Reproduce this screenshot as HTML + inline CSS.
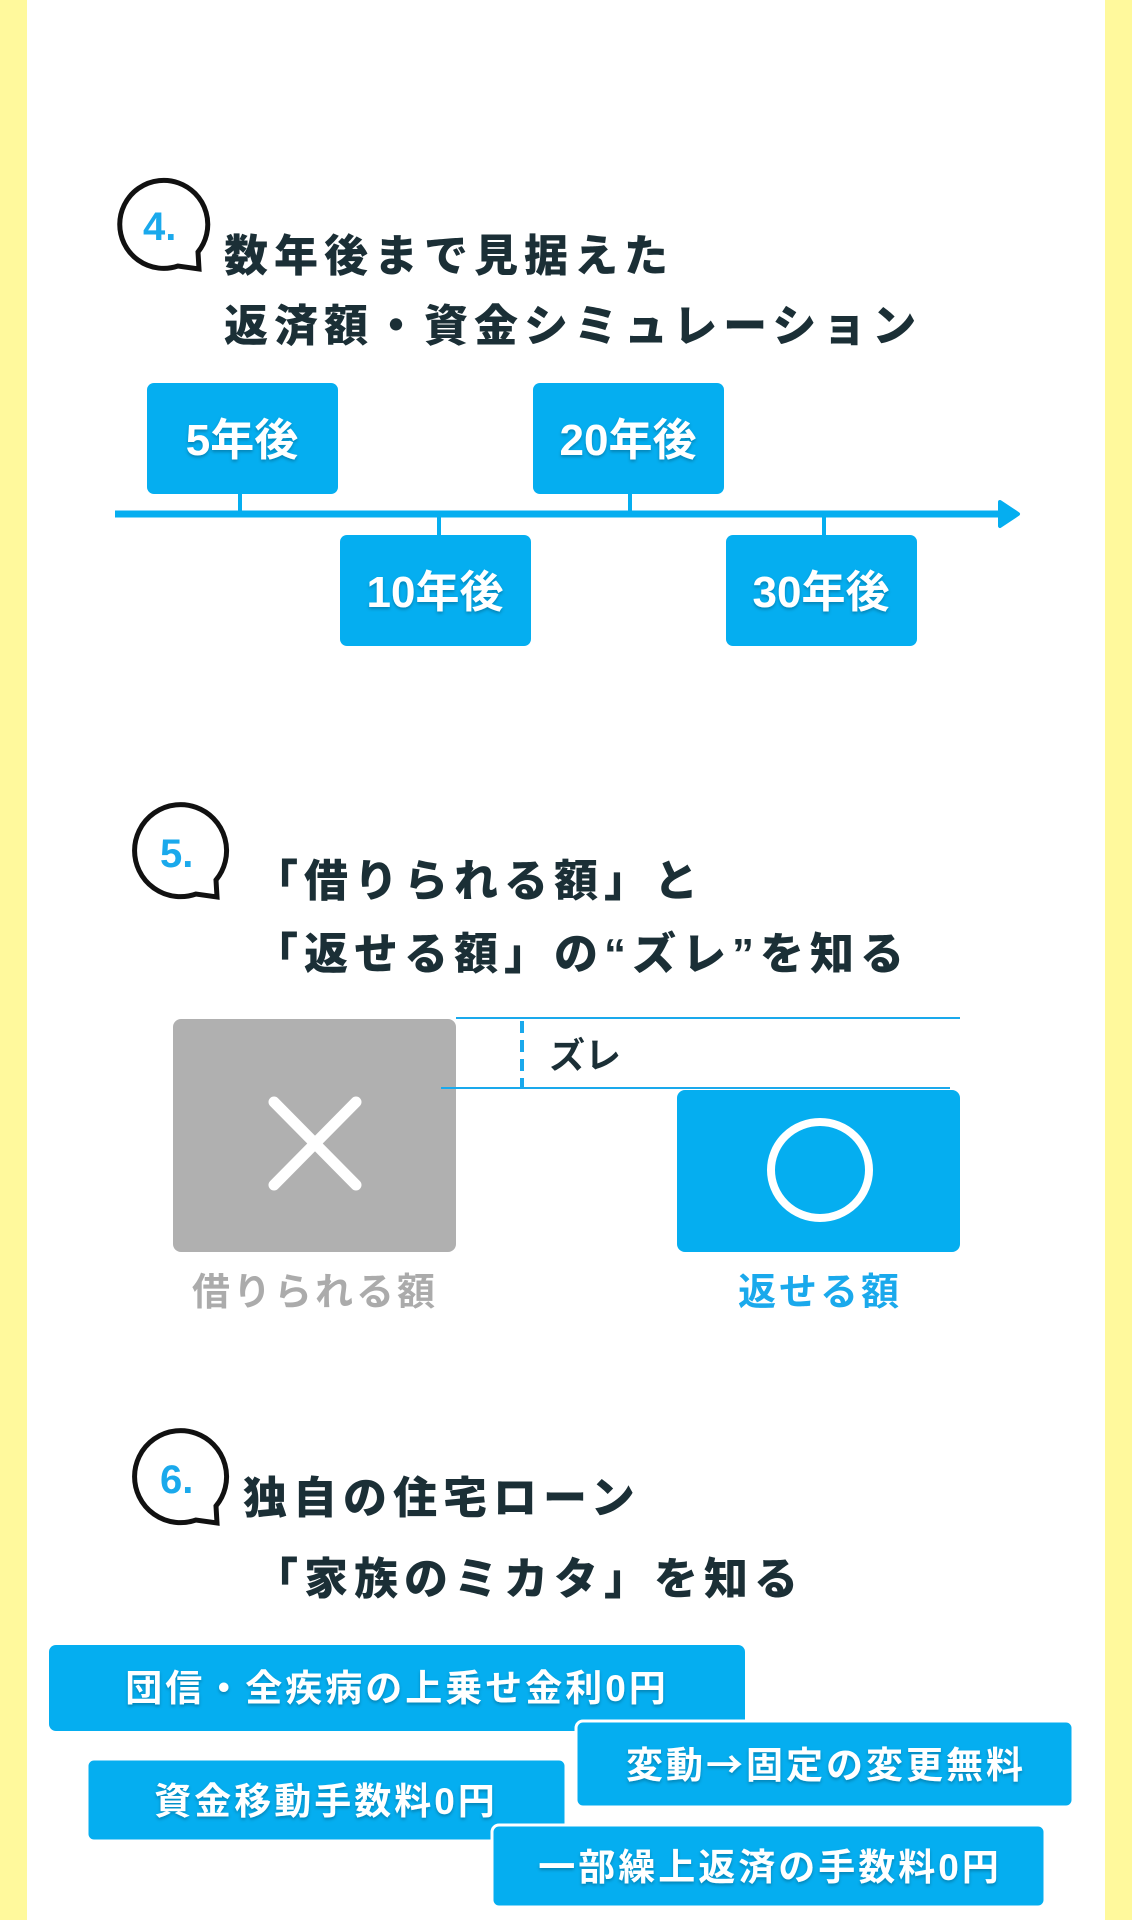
<!DOCTYPE html>
<html><head><meta charset="utf-8"><style>
html,body{margin:0;padding:0;background:#fff;}
svg{display:block;}
text{font-family:"Liberation Sans","Noto Sans CJK JP",sans-serif;font-weight:bold;}
.t{fill:#1b2f36;font-size:44px;letter-spacing:6px;font-weight:900;}
</style></head><body>
<svg width="1132" height="1920" viewBox="0 0 1132 1920" xmlns="http://www.w3.org/2000/svg">
<defs><filter id="sh" x="-10%" y="-10%" width="120%" height="130%"><feDropShadow dx="0" dy="2" stdDeviation="1.5" flood-color="#000" flood-opacity="0.25"/></filter></defs>
<rect x="0" y="0" width="1132" height="1920" fill="#fff"/>
<rect x="0" y="0" width="27" height="1920" fill="#fff99c"/>
<rect x="1105" y="0" width="27" height="1920" fill="#fff99c"/>

<!-- Section 4 -->
<path d="M 198 252 A 44 44 0 1 0 178 266 L 199 269 Z" fill="none" stroke="#111" stroke-width="5"/>
<text x="143" y="240" fill="#1aa9ec" font-size="40">4.</text>
<text class="t" x="224" y="271">数年後まで見据えた</text>
<text class="t" x="224" y="341">返済額・資金シミュレーション</text>

<line x1="115" y1="514" x2="1005" y2="514" stroke="#05aef0" stroke-width="7"/>
<path d="M 1000 502 L 1018 514 L 1000 526 Z" fill="#05aef0" stroke="#05aef0" stroke-width="4" stroke-linejoin="round"/>
<g stroke="#05aef0" stroke-width="4">
<line x1="240" y1="493" x2="240" y2="514"/><line x1="630" y1="493" x2="630" y2="514"/>
<line x1="439" y1="514" x2="439" y2="536"/><line x1="824" y1="514" x2="824" y2="536"/>
</g>
<g fill="#05aef0">
<rect x="147" y="383" width="191" height="111" rx="7"/>
<rect x="533" y="383" width="191" height="111" rx="7"/>
<rect x="340" y="535" width="191" height="111" rx="7"/>
<rect x="726" y="535" width="191" height="111" rx="7"/>
</g>
<g font-size="44" text-anchor="middle" filter="url(#sh)" fill="#fff">
<text x="242" y="455">5年後</text>
<text x="628" y="455">20年後</text>
<text x="435" y="607">10年後</text>
<text x="821" y="607">30年後</text>
</g>

<!-- Section 5 -->
<path d="M 216 880 A 46 46 0 1 0 196 894 L 217 897 Z" fill="none" stroke="#111" stroke-width="5"/>
<text x="160" y="867" fill="#1aa9ec" font-size="40">5.</text>
<text class="t" x="254" y="896">「借りられる額」と</text>
<text class="t" x="254" y="969">「返せる額」の“ズレ”を知る</text>

<rect x="173" y="1019" width="283" height="233" rx="8" fill="#b0b0b0"/>
<g stroke="#fff" stroke-width="11" stroke-linecap="round">
<line x1="274" y1="1102" x2="356" y2="1185"/><line x1="356" y1="1102" x2="274" y2="1185"/>
</g>
<rect x="677" y="1090" width="283" height="162" rx="8" fill="#05aef0"/>
<ellipse cx="820" cy="1170" rx="49" ry="48" fill="none" stroke="#fff" stroke-width="8"/>
<line x1="456" y1="1018" x2="960" y2="1018" stroke="#1aa9ec" stroke-width="2"/>
<line x1="441" y1="1088" x2="950" y2="1088" stroke="#1aa9ec" stroke-width="2"/>
<line x1="522" y1="1021" x2="522" y2="1087" stroke="#1aa9ec" stroke-width="4" stroke-dasharray="12,7"/>
<text x="549" y="1068" fill="#1b2f36" font-size="36">ズレ</text>
<text x="315" y="1305" fill="#ababab" font-size="38" letter-spacing="3" text-anchor="middle">借りられる額</text>
<text x="820" y="1305" fill="#1aa9ec" font-size="38" letter-spacing="3" text-anchor="middle">返せる額</text>

<!-- Section 6 -->
<path d="M 216 1506 A 46 46 0 1 0 196 1520 L 217 1523 Z" fill="none" stroke="#111" stroke-width="5"/>
<text x="160" y="1493" fill="#1aa9ec" font-size="40">6.</text>
<text class="t" x="243" y="1513">独自の住宅ローン</text>
<text class="t" x="254" y="1594">「家族のミカタ」を知る</text>

<rect x="49" y="1645" width="696" height="86" rx="7" fill="#05aef0"/>
<rect x="576" y="1721" width="497" height="86" rx="7" fill="#05aef0" stroke="#fff" stroke-width="3"/>
<rect x="87" y="1759" width="479" height="82" rx="7" fill="#05aef0" stroke="#fff" stroke-width="3"/>
<rect x="492" y="1825" width="553" height="82" rx="7" fill="#05aef0" stroke="#fff" stroke-width="3"/>
<g fill="#fff" font-size="37" letter-spacing="3" filter="url(#sh)" text-anchor="middle">
<text x="397" y="1701">団信・全疾病の上乗せ金利0円</text>
<text x="826" y="1778">変動<tspan font-family="Noto Sans CJK JP, sans-serif">→</tspan>固定の変更無料</text>
<text x="326" y="1814">資金移動手数料0円</text>
<text x="770" y="1880">一部繰上返済の手数料0円</text>
</g>
</svg>
</body></html>
